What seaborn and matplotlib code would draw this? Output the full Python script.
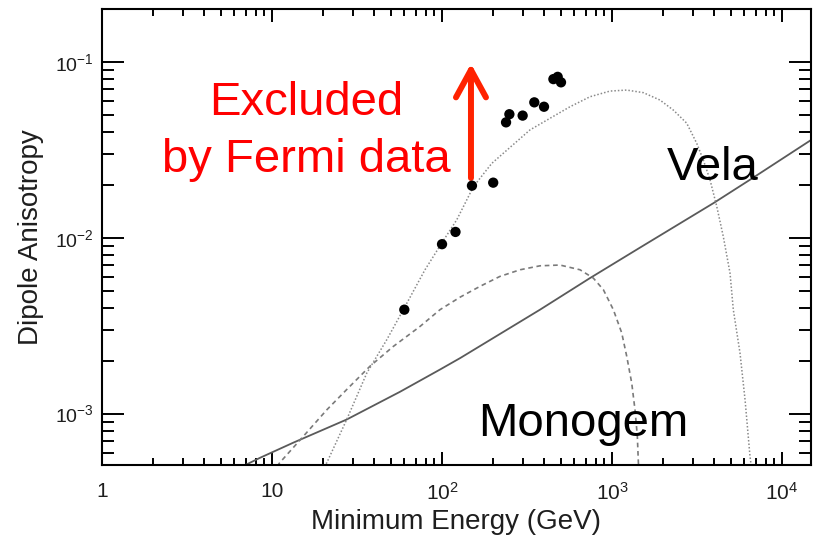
import matplotlib
matplotlib.use("Agg")
import matplotlib.pyplot as plt
from matplotlib.ticker import LogLocator, NullFormatter
import pandas as pd
import seaborn as sns

# Measured dipole anisotropy above a minimum energy
data_energy = [60, 100, 120, 150, 200, 238, 249, 298, 349, 398, 452, 479, 501]
data_aniso = [3.9e-3, 9.2e-3, 1.08e-2, 1.98e-2, 2.06e-2, 4.54e-2, 5.05e-2,
              4.96e-2, 5.9e-2, 5.57e-2, 8.0e-2, 8.24e-2, 7.67e-2]

# Vela pulsar prediction (solid)
vela_energy = [6.7, 8.5, 13.3, 27.5, 56.6, 97.3, 128, 377, 742, 1462, 3945,
               6480, 14800]
vela_aniso = [5.0e-4, 5.6e-4, 6.82e-4, 9.25e-4, 1.33e-3, 1.78e-3, 2.07e-3,
              3.90e-3, 5.90e-3, 8.8e-3, 1.574e-2, 2.14e-2, 3.6e-2]

# Monogem pulsar prediction (dashed)
mono_energy = [10.7, 11.1, 15.3, 21.0, 27.5, 37.7, 51.7, 74.2, 97.3, 128, 167,
               219, 288, 377, 494, 648, 776, 889, 1018, 1140, 1220, 1306,
               1365, 1409, 1429, 1435]
mono_aniso = [5.0e-4, 5.25e-4, 7.43e-4, 1.05e-3, 1.37e-3, 1.86e-3, 2.41e-3,
              3.13e-3, 3.90e-3, 4.6e-3, 5.29e-3, 6.03e-3, 6.58e-3, 6.93e-3,
              7.0e-3, 6.58e-3, 5.90e-3, 5.07e-3, 3.90e-3, 2.88e-3, 2.12e-3,
              1.49e-3, 1.05e-3, 7.43e-4, 5.25e-4, 5.0e-4]

# Combined source prediction (dotted)
dot_energy = [20.2, 21.0, 27.5, 36.1, 47.3, 59.2, 79.4, 99.6, 122, 153, 196,
              329, 432, 566, 742, 973, 1220, 1528, 1915, 2295, 2750, 3150,
              3444, 3770, 4130, 4515, 4945, 5170, 5660, 6060, 6480, 6600]
dot_aniso = [5.0e-4, 5.25e-4, 9.25e-4, 1.70e-3, 2.63e-3, 3.90e-3, 6.58e-3,
             9.33e-3, 1.265e-2, 1.955e-2, 2.65e-2, 4.11e-2, 4.79e-2, 5.57e-2,
             6.35e-2, 6.84e-2, 6.93e-2, 6.70e-2, 6.08e-2, 5.33e-2, 4.49e-2,
             3.45e-2, 2.77e-2, 2.14e-2, 1.51e-2, 1.016e-2, 6.29e-3, 3.90e-3,
             2.21e-3, 1.20e-3, 5.71e-4, 5.0e-4]

x_ticks = [1, 10, 100, 1000, 10000]
x_tick_labels = ["1", "10", r"10$^{2}$", r"10$^{3}$", r"10$^{4}$"]
y_ticks = [1e-3, 1e-2, 1e-1]
y_tick_labels = [r"10$^{-3}$", r"10$^{-2}$", r"10$^{-1}$"]

sns.set_theme(style="ticks")
plt.rcParams["font.family"] = ["Liberation Sans", "DejaVu Sans"]
plt.rcParams["mathtext.default"] = "regular"

fig = plt.figure(figsize=(8.13, 5.40), dpi=100)
ax = fig.add_axes([0.1255, 0.139, 0.872, 0.844])
ax.set_xscale("log")
ax.set_yscale("log")

df_vela = pd.DataFrame({"E": vela_energy, "A": vela_aniso})
df_mono = pd.DataFrame({"E": mono_energy, "A": mono_aniso})
df_dot = pd.DataFrame({"E": dot_energy, "A": dot_aniso})
df_data = pd.DataFrame({"E": data_energy, "A": data_aniso})

sns.lineplot(data=df_vela, x="E", y="A", ax=ax, sort=False, estimator=None,
             color="#5a5a5a", lw=1.3)
sns.lineplot(data=df_mono, x="E", y="A", ax=ax, sort=False, estimator=None,
             color="#7a7a7a", lw=1.2, linestyle=(0, (2.8, 2.2)))
sns.lineplot(data=df_dot, x="E", y="A", ax=ax, sort=False, estimator=None,
             color="#8a8a8a", lw=1.1, linestyle=(0, (1, 1.3)))
sns.scatterplot(data=df_data, x="E", y="A", ax=ax, color="black", s=55,
                edgecolor="none", zorder=5)

ax.set_xlim(1, 14800)
ax.set_ylim(5.1e-4, 0.2)

ax.xaxis.set_major_locator(LogLocator(base=10))
ax.xaxis.set_minor_locator(LogLocator(base=10, subs=range(2, 10), numticks=20))
ax.yaxis.set_minor_locator(LogLocator(base=10, subs=range(2, 10), numticks=20))
ax.set_xticks(x_ticks)
ax.set_xticklabels(x_tick_labels)
ax.set_yticks(y_ticks)
ax.set_yticklabels(y_tick_labels)
ax.xaxis.set_minor_formatter(NullFormatter())
ax.yaxis.set_minor_formatter(NullFormatter())

ax.tick_params(axis="both", which="both", direction="in", top=True, right=True,
               color="black", width=1.4, labelcolor="#1e1e1e")
ax.tick_params(axis="x", which="major", length=9.5, pad=12, labelsize=15)
ax.tick_params(axis="x", which="minor", length=4.8)
ax.tick_params(axis="y", which="major", length=16, pad=6, labelsize=14)
ax.tick_params(axis="y", which="minor", length=8.5)
for sp in ax.spines.values():
    sp.set_linewidth(1.5)
    sp.set_color("black")

ax.set_xlabel("Minimum Energy (GeV)", fontsize=20, color="#1e1e1e", labelpad=4)
ax.set_ylabel("Dipole Anisotropy", fontsize=20, color="#1e1e1e", labelpad=8)

# Exclusion annotation
ax.annotate("", xy=(148, 0.098), xytext=(148, 0.0219),
            arrowprops=dict(arrowstyle="->, head_length=1.1, head_width=0.6",
                            mutation_scale=18, color="#ff2200", lw=4.3,
                            shrinkA=0, shrinkB=0))
ax.text(15.96, 0.050, "Excluded", fontsize=34, color="#ff0000",
        ha="center", va="baseline")
ax.text(15.96, 0.0237, "by Fermi data", fontsize=34, color="#ff0000",
        ha="center", va="baseline")
ax.text(3926, 0.0214, "Vela", fontsize=34, color="black", ha="center", va="baseline")
ax.text(675, 7.43e-4, "Monogem", fontsize=34, color="black", ha="center", va="baseline")

fig.savefig("out.png", dpi=100)
